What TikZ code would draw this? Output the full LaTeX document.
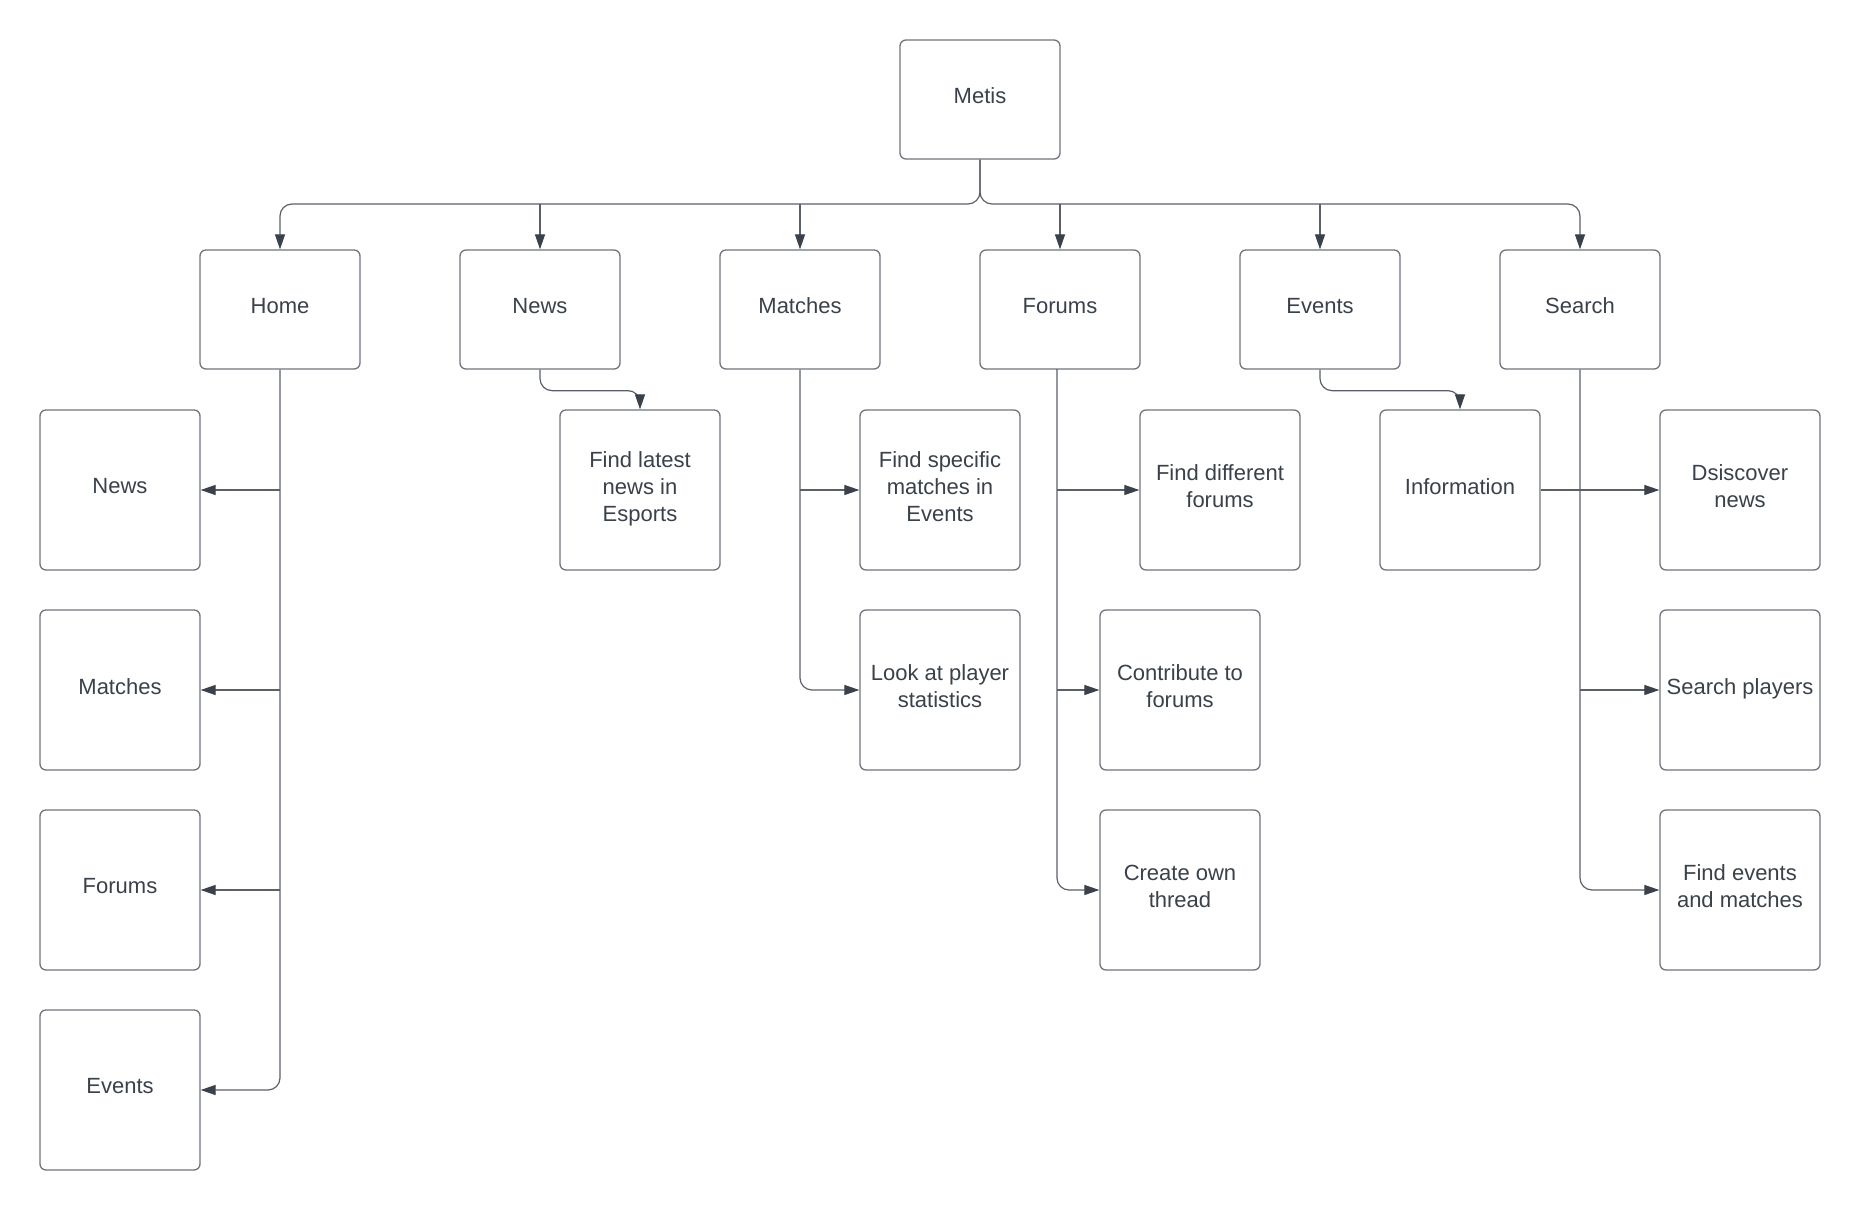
\documentclass[tikz,border=0pt]{standalone}
\usepackage{fontspec}
\setmainfont{Liberation Sans}
\usetikzlibrary{arrows.meta}
\definecolor{txt}{HTML}{3A414A}
\definecolor{boxline}{HTML}{70747C}
\definecolor{conline}{HTML}{5A5F68}
\tikzset{
  box/.style={draw=boxline, line width=0.65pt, rounded corners=3pt, fill=white,
    minimum width=80pt, minimum height=80pt, inner sep=0pt,
    align=center, text=txt, font=\fontsize{11pt}{13.5pt}\selectfont,
    execute at end node={\rule[-3.6pt]{0pt}{0pt}}},
  topbox/.style={box, minimum height=59.5pt},
  conn/.style={draw=conline, line width=0.6pt, rounded corners=6pt},
  arr/.style={conn, -{Triangle[length=7.5pt,width=5pt,color=txt]}},
}
\begin{document}
\begin{tikzpicture}[x=0.5pt,y=-0.5pt]
\useasboundingbox (0,0) rectangle (1860,1210);
% top
\node[topbox] (metis) at (980,99.5) {Metis};
\node[topbox] (home) at (280,309.5) {Home};
\node[topbox] (news) at (540,309.5) {News};
\node[topbox] (matches) at (800,309.5) {Matches};
\node[topbox] (forums) at (1060,309.5) {Forums};
\node[topbox] (events) at (1320,309.5) {Events};
\node[topbox] (search) at (1580,309.5) {Search};
% home children
\node[box] (hnews) at (120,490) {News};
\node[box] (hmatches) at (120,690) {Matches};
\node[box] (hforums) at (120,890) {Forums};
\node[box] (hevents) at (120,1090) {Events};
% news child
\node[box] (fln) at (640,490) {Find latest\\news in\\Esports};
% matches children
\node[box] (fsm) at (940,490) {Find specific\\matches in\\Events};
\node[box] (lps) at (940,690) {Look at player\\statistics};
% forums children
\node[box] (fdf) at (1220,490) {Find different\\forums};
\node[box] (ctf) at (1180,690) {Contribute to\\forums};
\node[box] (cot) at (1180,890) {Create own\\thread};
% events child
\node[box] (info) at (1460,490) {Information};
% search children
\node[box] (disc) at (1740,490) {Dsiscover\\news};
\node[box] (sp) at (1740,690) {Search players};
\node[box] (fem) at (1740,890) {Find events\\and matches};

% bus from Metis
\coordinate (busL) at (280,204);
\coordinate (busR) at (1580,204);
\draw[arr] (metis.south) |- (busL) -- (home.north);
\draw[arr] (metis.south) |- (busR) -- (search.north);
\draw[arr] (news.north |- busL) -- (news.north);
\draw[arr] (matches.north |- busL) -- (matches.north);
\draw[arr] (forums.north |- busL) -- (forums.north);
\draw[arr] (events.north |- busL) -- (events.north);

% home
\draw[arr] (home.south) |- (hevents.east);
\draw[arr] (home.south |- hnews.east) -- (hnews.east);
\draw[arr] (home.south |- hmatches.east) -- (hmatches.east);
\draw[arr] (home.south |- hforums.east) -- (hforums.east);

% news
\draw[arr] (news.south) -- ++(0,21) -| (fln.north);

% matches
\draw[arr] (matches.south) |- (lps.west);
\draw[arr] (matches.south |- fsm.west) -- (fsm.west);

% forums
\coordinate (ft) at (1057,369);
\draw[arr] (ft) |- (cot.west);
\draw[arr] (ft |- fdf.west) -- (fdf.west);
\draw[arr] (ft |- ctf.west) -- (ctf.west);

% events
\draw[arr] (events.south) -- ++(0,21) -| (info.north);
\draw[arr] (info.east) -- (disc.west);

% search
\draw[arr] (search.south) |- (fem.west);
\draw[arr] (search.south |- sp.west) -- (sp.west);
\end{tikzpicture}
\end{document}
